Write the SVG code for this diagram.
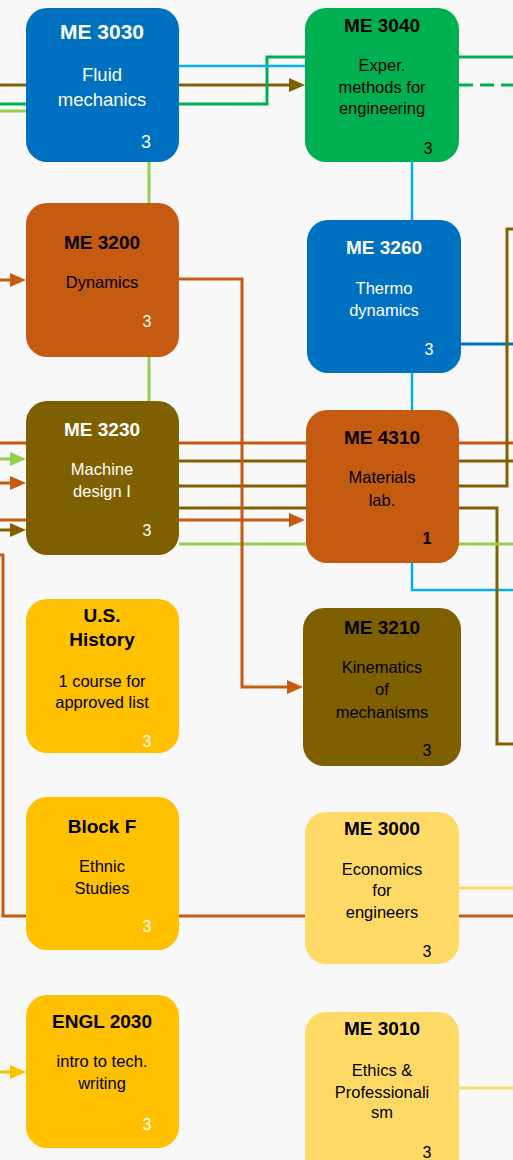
<svg xmlns="http://www.w3.org/2000/svg" width="513" height="1160" viewBox="0 0 513 1160">
<defs>
<style>
.c{fill:none;stroke-width:3}
.br{stroke:#7f6000}.gr{stroke:#00b050}.lg{stroke:#92d050}.lb{stroke:#00b0f0;stroke-width:2.5}.or{stroke:#c55a11}.db{stroke:#0070c0}.go{stroke:#ffc000}.ly{stroke:#ffd966}
text{font-family:"Liberation Sans",Arial,sans-serif;text-anchor:middle}
.t{font-weight:bold;font-size:19px}
.b{font-size:16.5px}
.n{font-size:16px}
.w{fill:#ffffff}.k{fill:#000000}
</style>
<marker id="aBr" markerUnits="userSpaceOnUse" markerWidth="16" markerHeight="14" refX="10" refY="7" orient="auto"><path d="M0,0L16,7L0,14z" fill="#7f6000"/></marker>
<marker id="aOr" markerUnits="userSpaceOnUse" markerWidth="16" markerHeight="14" refX="10" refY="7" orient="auto"><path d="M0,0L16,7L0,14z" fill="#c55a11"/></marker>
<marker id="aLg" markerUnits="userSpaceOnUse" markerWidth="16" markerHeight="14" refX="10" refY="7" orient="auto"><path d="M0,0L16,7L0,14z" fill="#92d050"/></marker>
<marker id="aGo" markerUnits="userSpaceOnUse" markerWidth="16" markerHeight="14" refX="10" refY="7" orient="auto"><path d="M0,0L16,7L0,14z" fill="#ffc000"/></marker>
</defs>
<rect width="513" height="1160" fill="#f8f8f8"/>
<g id="connectors">
<path class="c br" d="M0,85H299" marker-end="url(#aBr)"/>
<path class="c gr" d="M0,104H267V57H305"/>
<path class="c gr" d="M459,57H513"/>
<path class="c gr" d="M459,85H513" stroke-dasharray="14 7"/>
<path class="c lg" d="M0,111H26"/>
<path class="c lb" d="M179,66H305"/>
<path class="c lb" d="M412,162V590H513"/>
<path class="c lg" d="M149,162V401"/>
<path class="c or" d="M0,280H20" marker-end="url(#aOr)"/>
<path class="c db" d="M461,344H513"/>
<path class="c or" d="M0,443H513"/>
<path class="c br" d="M179,461H513"/>
<path class="c br" d="M179,486H507V229H513"/>
<path class="c br" d="M179,508H497V744H513"/>
<path class="c lg" d="M179,544H513"/>
<path class="c or" d="M0,520H299" marker-end="url(#aOr)"/>
<path class="c lg" d="M0,459H20" marker-end="url(#aLg)"/>
<path class="c or" d="M0,483H20" marker-end="url(#aOr)"/>
<path class="c br" d="M0,530H20" marker-end="url(#aBr)"/>
<path class="c or" d="M179,279H242V687H297" marker-end="url(#aOr)"/>
<path class="c or" d="M0,555H3V916H513"/>
<path class="c ly" d="M459,888H513"/>
<path class="c ly" d="M459,1088H513"/>
<path class="c go" d="M0,1072H20" marker-end="url(#aGo)"/>
</g>
<g id="me3030">
<rect x="26" y="8" width="153" height="154" rx="21" fill="#0070c0"/>
<text class="w" x="102" y="39" font-weight="bold" font-size="21px">ME 3030</text>
<text class="w" x="102" y="81" font-size="18.5px">Fluid</text>
<text class="w" x="102" y="106" font-size="18.5px">mechanics</text>
<text class="w" x="146" y="148" font-size="18px">3</text>
</g>
<g id="me3040">
<rect x="305" y="8" width="154" height="154" rx="21" fill="#00b050"/>
<text class="t k" x="382" y="32">ME 3040</text>
<text class="b k" x="382" y="71">Exper.</text>
<text class="b k" x="382" y="93">methods for</text>
<text class="b k" x="382" y="114">engineering</text>
<text class="n k" x="428" y="154">3</text>
</g>
<g id="me3200">
<rect x="26" y="203" width="153" height="154" rx="21" fill="#c55a11"/>
<text class="t k" x="102" y="249">ME 3200</text>
<text class="b k" x="102" y="288">Dynamics</text>
<text class="n w" x="147" y="327">3</text>
</g>
<g id="me3260">
<rect x="307" y="220" width="154" height="153" rx="21" fill="#0070c0"/>
<text class="t w" x="384" y="254">ME 3260</text>
<text class="b w" x="384" y="294">Thermo</text>
<text class="b w" x="384" y="316">dynamics</text>
<text class="n w" x="429" y="355">3</text>
</g>
<g id="me3230">
<rect x="26" y="401" width="153" height="154" rx="21" fill="#7f6000"/>
<text class="t w" x="102" y="436">ME 3230</text>
<text class="b w" x="102" y="475">Machine</text>
<text class="b w" x="102" y="497">design I</text>
<text class="n w" x="147" y="536">3</text>
</g>
<g id="me4310">
<rect x="306" y="410" width="153" height="153" rx="21" fill="#c55a11"/>
<text class="t k" x="382" y="444">ME 4310</text>
<text class="b k" x="382" y="483">Materials</text>
<text class="b k" x="382" y="506">lab.</text>
<text class="n k" x="427" y="544" font-weight="bold">1</text>
</g>
<g id="ushistory">
<rect x="26" y="599" width="153" height="154" rx="21" fill="#ffc000"/>
<text class="t k" x="102" y="622">U.S.</text>
<text class="t k" x="102" y="646">History</text>
<text class="b k" x="102" y="687">1 course for</text>
<text class="b k" x="102" y="708">approved list</text>
<text class="n w" x="147" y="747">3</text>
</g>
<g id="me3210">
<rect x="303" y="608" width="158" height="158" rx="21" fill="#7f6000"/>
<text class="t k" x="382" y="634">ME 3210</text>
<text class="b k" x="382" y="673">Kinematics</text>
<text class="b k" x="382" y="695">of</text>
<text class="b k" x="382" y="718">mechanisms</text>
<text class="n k" x="427" y="756">3</text>
</g>
<g id="blockf">
<rect x="26" y="797" width="153" height="153" rx="21" fill="#ffc000"/>
<text class="t k" x="102" y="833">Block F</text>
<text class="b k" x="102" y="872">Ethnic</text>
<text class="b k" x="102" y="894">Studies</text>
<text class="n w" x="147" y="932">3</text>
</g>
<g id="me3000">
<rect x="305" y="812" width="154" height="152" rx="21" fill="#ffd966"/>
<text class="t k" x="382" y="835">ME 3000</text>
<text class="b k" x="382" y="875">Economics</text>
<text class="b k" x="382" y="896">for</text>
<text class="b k" x="382" y="918">engineers</text>
<text class="n k" x="427" y="957">3</text>
</g>
<g id="engl2030">
<rect x="26" y="995" width="153" height="153" rx="21" fill="#ffc000"/>
<text class="t k" x="102" y="1028">ENGL 2030</text>
<text class="b k" x="102" y="1067">intro to tech.</text>
<text class="b k" x="102" y="1089">writing</text>
<text class="n w" x="147" y="1130">3</text>
</g>
<g id="me3010">
<rect x="305" y="1012" width="154" height="170" rx="21" fill="#ffd966"/>
<text class="t k" x="382" y="1035">ME 3010</text>
<text class="b k" x="382" y="1076">Ethics &amp;</text>
<text class="b k" x="382" y="1098">Professionali</text>
<text class="b k" x="382" y="1118">sm</text>
<text class="n k" x="427" y="1158">3</text>
</g>
</svg>
